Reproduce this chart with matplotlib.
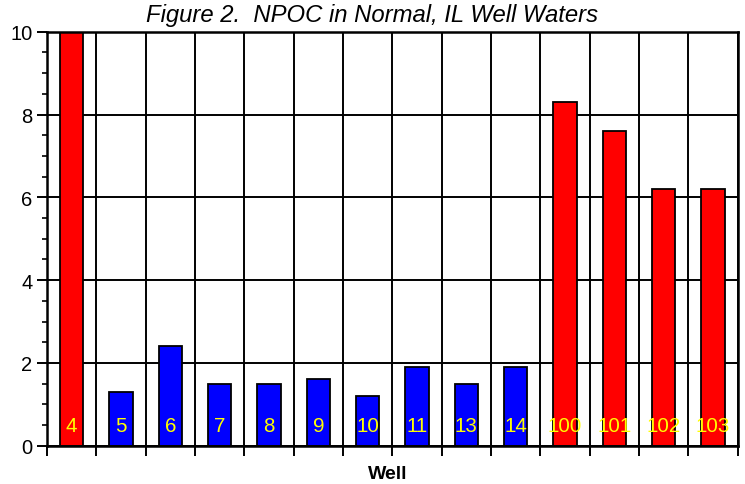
import matplotlib
matplotlib.use("Agg")
import matplotlib.pyplot as plt
from matplotlib.ticker import MultipleLocator, FixedLocator, NullFormatter

wells = ["4", "5", "6", "7", "8", "9", "10", "11", "13", "14", "100", "101", "102", "103"]
npoc = [10.0, 1.3, 2.4, 1.5, 1.5, 1.6, 1.2, 1.9, 1.5, 1.9, 8.3, 7.6, 6.2, 6.2]
groups = ["red", "blue", "blue", "blue", "blue", "blue", "blue", "blue", "blue", "blue",
          "red", "red", "red", "red"]
color_map = {"red": "#FF0000", "blue": "#0000FF"}
title = "Figure 2.  NPOC in Normal, IL Well Waters"
xlabel = "Well"
yticks = [0, 2, 4, 6, 8, 10]

plt.rcParams["font.family"] = ["Liberation Sans", "DejaVu Sans"]

fig = plt.figure(figsize=(7.45, 4.85), dpi=100)
ax = fig.add_axes([47 / 745, 1 - 446.7 / 485, (737.7 - 47) / 745, (446.7 - 32.7) / 485])

x = list(range(len(wells)))
ax.bar(x, npoc, width=0.47, color=[color_map[g] for g in groups],
       edgecolor="black", linewidth=1.3, zorder=3)

for xi, w in zip(x, wells):
    ax.text(xi, 0.48, w, color="#FFFF00", ha="center", va="center",
            fontsize=14.8, zorder=4)

ax.set_xlim(-0.5, len(wells) - 0.5)
ax.set_ylim(0, 10)
bounds = [i - 0.5 for i in range(len(wells) + 1)]
ax.xaxis.set_major_locator(FixedLocator(bounds))
ax.xaxis.set_major_formatter(NullFormatter())
ax.yaxis.set_major_locator(FixedLocator(yticks))
ax.yaxis.set_minor_locator(MultipleLocator(0.5))
ax.tick_params(axis="x", which="major", direction="out", length=7.5, width=1.4, color="black")
ax.tick_params(axis="y", which="major", direction="out", length=7.5, width=1.4,
               labelsize=14.5, pad=3)
ax.tick_params(axis="y", which="minor", direction="out", length=3.5, width=1.2)

ax.grid(True, which="major", color="black", linewidth=1.4, zorder=1)
ax.set_axisbelow(True)
for s in ax.spines.values():
    s.set_linewidth(1.8)
    s.set_zorder(5)

fig.text(387.5 / 745, 1 - 479 / 485, xlabel, ha="center", va="baseline",
         fontsize=14, fontweight="bold")
fig.text(372.5 / 745, 1 - 22 / 485, title, ha="center", va="baseline",
         fontsize=17.2, style="italic")

fig.savefig("out.png", dpi=100)
